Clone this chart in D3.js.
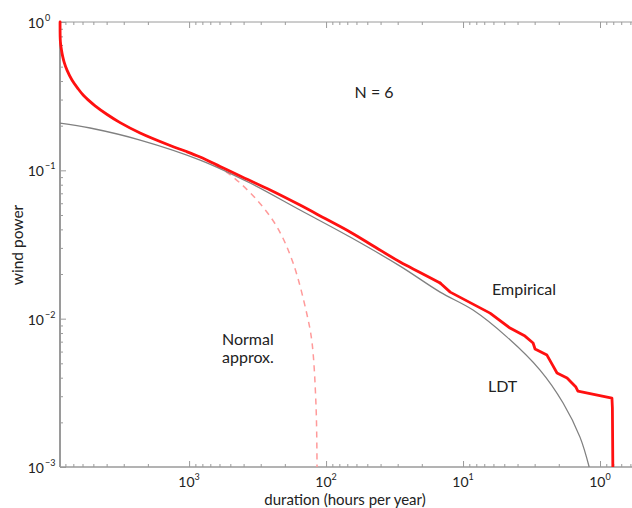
<!DOCTYPE html>
<html>
<head>
<meta charset="utf-8">
<script src="https://cdn.jsdelivr.net/npm/d3@7"></script>
<style>
  html, body { margin: 0; padding: 0; background: #fff; }
  svg { display: block; font-family: Lato, "Open Sans", sans-serif; }
</style>
</head>
<body>
<svg id="chart" width="632" height="508"></svg>
<script>
// Exceedance curves: wind power level vs. hours per year it is exceeded
const empiricalDuration = [8750, 8700, 8525, 8383, 8173, 7772, 7145, 6459, 5938, 5280, 4855, 3967, 3189, 2279, 1376, 1070, 831, 594, 424, 256, 155, 101.6, 66.8, 43.9, 28.8, 20.6, 14.7,
                           12.4, 6.35, 4.54, 3.53, 3.08, 2.98, 2.44, 2.24, 2.06, 1.74, 1.50, 1.45, 0.818, 0.812, 0.806];
const empiricalPower    = [1.0, 0.735, 0.640, 0.589, 0.537, 0.4716, 0.4045, 0.3544, 0.322, 0.2905, 0.2722, 0.2378, 0.2097, 0.1785, 0.147, 0.1349, 0.1229, 0.1061, 0.0915, 0.0737, 0.0583, 0.0473, 0.0384, 0.0304, 0.0241, 0.0205, 0.0174,
                           0.0151, 0.0109, 0.00864, 0.00763, 0.00685, 0.00624, 0.00568, 0.00494, 0.0043, 0.00398, 0.00346, 0.00325, 0.00291, 0.0025, 0.001];
// the smooth body of the empirical curve ends here; the sparse tail is drawn point to point
const empiricalSmoothUntil = 14.7;

const ldtDuration = [8760, 5280, 2279, 831, 358.6, 155, 66.8, 28.8, 14.7, 8.45, 4.77, 2.74, 1.86, 1.40, 1.20];
const ldtPower    = [0.2084, 0.1929, 0.160, 0.1173, 0.0821, 0.054, 0.0355, 0.0226, 0.0151, 0.01143, 0.00751, 0.0045, 0.0027, 0.00159, 0.001];

const normalDuration = [8750, 8700, 8525, 8383, 8173, 7772, 7145, 6459, 5938, 5280, 4855, 3967, 3189, 2279, 1376, 1070, 831, 600, 477, 319, 228, 174, 137.6, 126.5, 118.3, 116.4];
const normalPower    = [1.0, 0.735, 0.640, 0.589, 0.537, 0.4716, 0.4045, 0.3544, 0.322, 0.2905, 0.2722, 0.2378, 0.2097, 0.1785, 0.147, 0.1349, 0.1229, 0.104, 0.0901, 0.063, 0.0415, 0.0237, 0.01058, 0.00685, 0.00254, 0.001];

// Axis decades (value, exponent shown as superscript)
const xMajorTicks = [1000, 100, 10, 1];
const xTickExponents = ["3", "2", "1", "0"];
const yMajorTicks = [1, 0.1, 0.01, 0.001];
const yTickExponents = ["0", "\u22121", "\u22122", "\u22123"];

const annotations = [
  { text: "N = 6", d: 44.6, p: 0.307, anchor: "middle" },
  { text: "Empirical", d: 6.14, p: 0.0144, anchor: "start" },
  { text: "LDT", d: 6.57, p: 0.00322, anchor: "start" },
];

const svg = d3.select("#chart");
const mLeft = 60, mRight = 632, mTop = 22, mBottom = 467;

const x = d3.scaleLog().domain([8760, 0.584]).range([mLeft, mRight]);
const y = d3.scaleLog().domain([0.001, 1]).range([mBottom, mTop]);

const axisColor = "#9a9a9a";

// minor + major tick values inside the domains
function logTicks(lo, hi) {
  const out = [];
  for (let k = Math.floor(Math.log10(lo)); k <= Math.ceil(Math.log10(hi)); k++) {
    for (let m = 1; m <= 9; m++) {
      const v = m * Math.pow(10, k);
      if (v >= lo * 0.9999 && v <= hi * 1.0001) out.push(v);
    }
  }
  return out;
}
const isMajor = v => Math.abs(Math.log10(v) - Math.round(Math.log10(v))) < 1e-9;
const xTickVals = logTicks(0.584, 8760);
const yTickVals = logTicks(0.001, 1);

function styleAxis(g, horizontal, sign) {
  g.select(".domain").remove();
  g.selectAll(".tick line")
    .attr("stroke", axisColor)
    .attr("stroke-width", 1)
    .each(function(d) {
      const len = isMajor(d) ? 6 : 3;
      const el = d3.select(this);
      if (horizontal) el.attr("y2", sign * len);
      else el.attr("x2", sign * len);
    });
}

// bottom axis (ticks point into the plot)
const gB = svg.append("g").attr("transform", `translate(0,${mBottom})`)
  .call(d3.axisBottom(x).tickValues(xTickVals).tickSize(-6).tickFormat(""));
styleAxis(gB, true, -1);
// top axis
const gT = svg.append("g").attr("transform", `translate(0,${mTop})`)
  .call(d3.axisTop(x).tickValues(xTickVals).tickSize(-6).tickFormat(""));
styleAxis(gT, true, 1);
// left axis
const gL = svg.append("g").attr("transform", `translate(${mLeft},0)`)
  .call(d3.axisLeft(y).tickValues(yTickVals).tickSize(-6).tickFormat(""));
styleAxis(gL, false, 1);

// axis lines
svg.append("line").attr("x1", mLeft).attr("x2", mRight).attr("y1", mBottom).attr("y2", mBottom)
  .attr("stroke", axisColor).attr("stroke-width", 1.5);
svg.append("line").attr("x1", mLeft).attr("x2", mRight).attr("y1", mTop).attr("y2", mTop)
  .attr("stroke", axisColor).attr("stroke-width", 1);
svg.append("line").attr("x1", mLeft).attr("x2", mLeft).attr("y1", mTop).attr("y2", mBottom)
  .attr("stroke", axisColor).attr("stroke-width", 2);

// tick labels with superscript exponents
const labelColor = "#222";
xMajorTicks.forEach((v, i) => {
  const t = svg.append("text").attr("x", x(v)).attr("y", 487)
    .attr("text-anchor", "middle").attr("fill", labelColor).attr("font-size", 14);
  t.append("tspan").text("10");
  t.append("tspan").attr("dy", -7).attr("font-size", 9).text(xTickExponents[i]);
});
yMajorTicks.forEach((v, i) => {
  svg.append("text").attr("x", 44).attr("y", y(v) + 6)
    .attr("text-anchor", "end").attr("fill", labelColor).attr("font-size", 14)
    .text("10");
  svg.append("text").attr("x", 45).attr("y", y(v) - 1)
    .attr("text-anchor", "start").attr("fill", labelColor).attr("font-size", 9)
    .text(yTickExponents[i]);
});

// axis titles
svg.append("text").attr("x", 345).attr("y", 505).attr("text-anchor", "middle")
  .attr("fill", labelColor).attr("font-size", 15).text("duration (hours per year)");
svg.append("text").attr("transform", "translate(23,245) rotate(-90)")
  .attr("text-anchor", "middle").attr("fill", labelColor).attr("font-size", 15.5).text("wind power");

// clipped plotting area
svg.append("clipPath").attr("id", "plotClip").append("rect")
  .attr("x", mLeft - 2).attr("y", mTop - 2).attr("width", mRight - mLeft + 4).attr("height", mBottom - mTop + 2);
const plot = svg.append("g").attr("clip-path", "url(#plotClip)");

const smooth = d3.line().x(d => x(d[0])).y(d => y(d[1])).curve(d3.curveCatmullRom.alpha(0.5));
const straight = d3.line().x(d => x(d[0])).y(d => y(d[1]));
const zip = (a, b) => a.map((v, i) => [v, b[i]]);

plot.append("path").datum(zip(normalDuration, normalPower))
  .attr("d", smooth).attr("fill", "none").attr("stroke", "#ff9a9a")
  .attr("stroke-width", 1.5).attr("stroke-dasharray", "6,5");

plot.append("path").datum(zip(ldtDuration, ldtPower))
  .attr("d", smooth).attr("fill", "none").attr("stroke", "#808080").attr("stroke-width", 1.3);

const empirical = zip(empiricalDuration, empiricalPower);
const body = empirical.filter(d => d[0] >= empiricalSmoothUntil);
const tail = empirical.filter(d => d[0] <= empiricalSmoothUntil);
const redStyle = p => p.attr("fill", "none").attr("stroke", "#ff1010")
  .attr("stroke-width", 2.8).attr("stroke-linejoin", "round").attr("stroke-linecap", "round");
plot.append("path").datum(body).attr("d", smooth).call(redStyle);
plot.append("path").datum(tail).attr("d", straight).call(redStyle);

// text annotations
annotations.forEach(a => {
  svg.append("text").attr("x", x(a.d)).attr("y", y(a.p))
    .attr("text-anchor", a.anchor).attr("fill", labelColor).attr("font-size", 16).text(a.text);
});
const na = svg.append("text").attr("x", 222).attr("y", 345).attr("fill", labelColor).attr("font-size", 16);
na.append("tspan").attr("x", 222).text("Normal");
na.append("tspan").attr("x", 222).attr("dy", 18).text("approx.");
</script>
</body>
</html>
